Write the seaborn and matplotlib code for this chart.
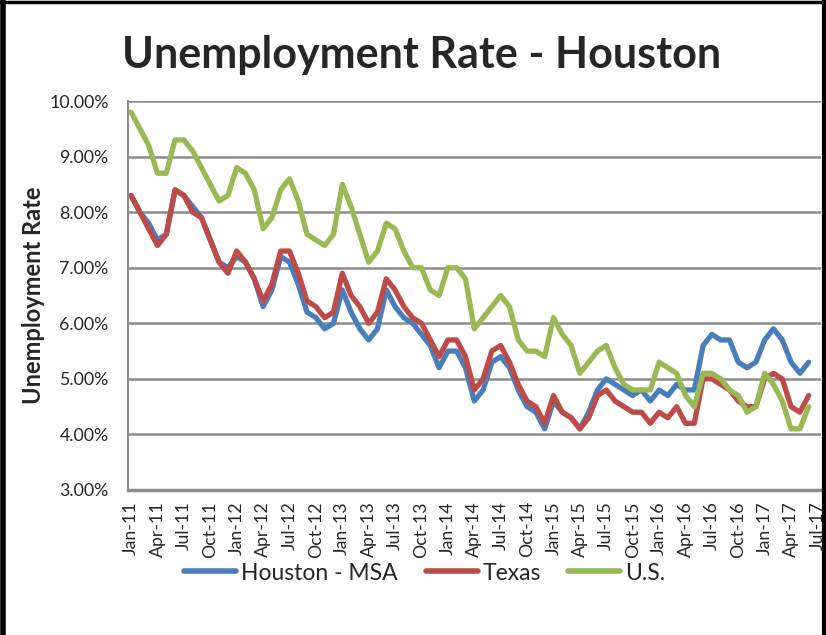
import numpy as np
import pandas as pd
import matplotlib
matplotlib.use("Agg")
import matplotlib.pyplot as plt
import seaborn as sns
from matplotlib.lines import Line2D

# ---- data (monthly, Jan-11 .. Jun-17) ----
houston = [8.3, 8.0, 7.8, 7.5, 7.6, 8.4, 8.3, 8.1, 7.9, 7.5, 7.1, 7.0,
           7.2, 7.1, 6.8, 6.3, 6.6, 7.2, 7.1, 6.7, 6.2, 6.1, 5.9, 6.0,
           6.6, 6.2, 5.9, 5.7, 5.9, 6.6, 6.3, 6.1, 6.0, 5.8, 5.6, 5.2,
           5.5, 5.5, 5.2, 4.6, 4.8, 5.3, 5.4, 5.2, 4.8, 4.5, 4.4, 4.1,
           4.6, 4.4, 4.3, 4.1, 4.4, 4.8, 5.0, 4.9, 4.8, 4.7, 4.8, 4.6,
           4.8, 4.7, 4.9, 4.8, 4.8, 5.6, 5.8, 5.7, 5.7, 5.3, 5.2, 5.3,
           5.7, 5.9, 5.7, 5.3, 5.1, 5.3]
texas = [8.3, 8.0, 7.7, 7.4, 7.6, 8.4, 8.3, 8.0, 7.9, 7.5, 7.1, 6.9,
         7.3, 7.1, 6.8, 6.4, 6.7, 7.3, 7.3, 6.9, 6.4, 6.3, 6.1, 6.2,
         6.9, 6.5, 6.3, 6.0, 6.2, 6.8, 6.6, 6.3, 6.1, 6.0, 5.7, 5.4,
         5.7, 5.7, 5.4, 4.8, 5.0, 5.5, 5.6, 5.3, 4.9, 4.6, 4.5, 4.2,
         4.7, 4.4, 4.3, 4.1, 4.3, 4.7, 4.8, 4.6, 4.5, 4.4, 4.4, 4.2,
         4.4, 4.3, 4.5, 4.2, 4.2, 5.0, 5.0, 4.9, 4.8, 4.6, 4.5, 4.5,
         5.0, 5.1, 5.0, 4.5, 4.4, 4.7]
us = [9.8, 9.5, 9.2, 8.7, 8.7, 9.3, 9.3, 9.1, 8.8, 8.5, 8.2, 8.3,
      8.8, 8.7, 8.4, 7.7, 7.9, 8.4, 8.6, 8.2, 7.6, 7.5, 7.4, 7.6,
      8.5, 8.1, 7.6, 7.1, 7.3, 7.8, 7.7, 7.3, 7.0, 7.0, 6.6, 6.5,
      7.0, 7.0, 6.8, 5.9, 6.1, 6.3, 6.5, 6.3, 5.7, 5.5, 5.5, 5.4,
      6.1, 5.8, 5.6, 5.1, 5.3, 5.5, 5.6, 5.2, 4.9, 4.8, 4.8, 4.8,
      5.3, 5.2, 5.1, 4.7, 4.5, 5.1, 5.1, 5.0, 4.8, 4.7, 4.4, 4.5,
      5.1, 4.9, 4.6, 4.1, 4.1, 4.5]
series_names = ["Houston - MSA", "Texas", "U.S."]
colors = ["#4A7EBB", "#BE4B48", "#98B954"]
tick_labels = ["Jan-11", "Apr-11", "Jul-11", "Oct-11", "Jan-12", "Apr-12", "Jul-12",
               "Oct-12", "Jan-13", "Apr-13", "Jul-13", "Oct-13", "Jan-14", "Apr-14",
               "Jul-14", "Oct-14", "Jan-15", "Apr-15", "Jul-15", "Oct-15", "Jan-16",
               "Apr-16", "Jul-16", "Oct-16", "Jan-17", "Apr-17", "Jul-17"]

n = len(us)
frames = []
for name, vals in zip(series_names, [houston, texas, us]):
    frames.append(pd.DataFrame({"month": np.arange(n), "rate": vals, "series": name}))
df = pd.concat(frames, ignore_index=True)

sns.set_theme(style="white")
plt.rcParams["font.family"] = ["Lato", "DejaVu Sans"]

W, H = 826, 635
fig = plt.figure(figsize=(W / 100, H / 100), dpi=100)
ax = fig.add_axes([128 / W, 1 - 490 / H, (821 - 128) / W, (490 - 101) / H])

sns.lineplot(data=df, x="month", y="rate", hue="series", hue_order=series_names,
             palette=colors, linewidth=3.8, ax=ax, legend=False)

ax.set_xlim(-0.35, 78.4)
ax.set_ylim(3, 10)
ax.set_yticks(np.arange(3, 10.01, 1))
ax.set_yticklabels([f"{v:.2f}%" for v in np.arange(3, 10.01, 1)], fontsize=12.8)
ax.set_xticks(np.arange(0, 79, 3))
ax.set_xticklabels(tick_labels, rotation=90, fontsize=12.8)
ax.tick_params(axis="x", length=0, pad=8)
ax.tick_params(axis="y", length=0, pad=14)
ax.set_xlabel("")
ax.set_ylabel("Unemployment Rate", fontsize=17, fontweight="bold", labelpad=3)
ax.yaxis.grid(True, color="#8C8C8C", linewidth=1.8)
ax.xaxis.grid(False)
ax.set_axisbelow(True)
for s in ["top", "right"]:
    ax.spines[s].set_visible(False)
ax.spines["left"].set_color("#8C8C8C")
ax.spines["left"].set_linewidth(1.5)
ax.spines["bottom"].set_color("#8C8C8C")
ax.spines["bottom"].set_linewidth(2.5)

fig.text(422 / W, 1 - 55 / H, "Unemployment Rate - Houston", ha="center", va="center",
         fontsize=31, fontweight="bold")

handles = [Line2D([0], [0], color=c, lw=4) for c in colors]
fig.legend(handles, series_names, loc="center", bbox_to_anchor=(425 / W, 1 - 573 / H),
           ncol=3, frameon=False, fontsize=16.5, handlelength=2.27, handletextpad=0.22,
           columnspacing=1.2)

# chart-area border
fig.add_artist(Line2D([2.5 / W, 2.5 / W], [0, 1], color="black", lw=4, transform=fig.transFigure))
fig.add_artist(Line2D([0, 1], [1 - 1.5 / H, 1 - 1.5 / H], color="black", lw=2.5, transform=fig.transFigure))
fig.add_artist(Line2D([823.5 / W, 823.5 / W], [0, 1], color="black", lw=3, transform=fig.transFigure))

fig.savefig("out.png", dpi=100)
